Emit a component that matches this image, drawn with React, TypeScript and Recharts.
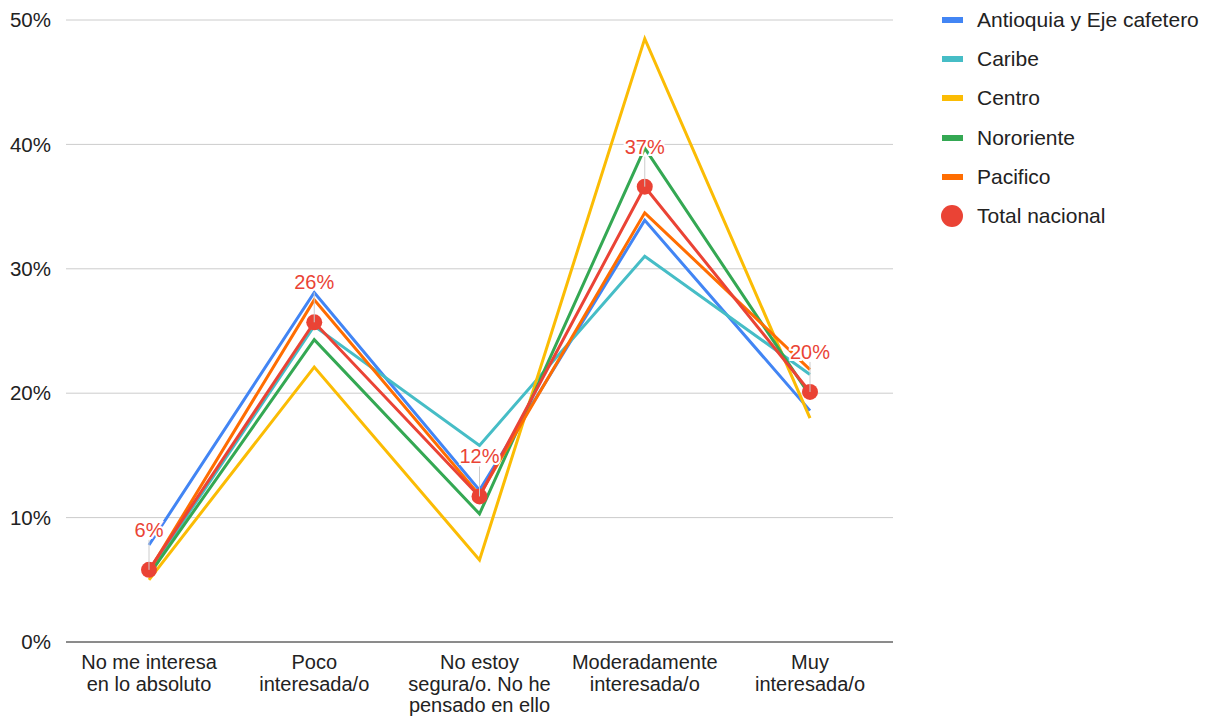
import { CartesianGrid, LabelList, Line, LineChart, XAxis, YAxis } from "recharts";

const categories = [
  ["No me interesa", "en lo absoluto"],
  ["Poco", "interesada/o"],
  ["No estoy", "segura/o. No he", "pensado en ello"],
  ["Moderadamente", "interesada/o"],
  ["Muy", "interesada/o"],
];

const seriesNames = ["Antioquia y Eje cafetero", "Caribe", "Centro", "Nororiente", "Pacifico", "Total nacional"];
const seriesColors = ["#4285F4", "#46BDC6", "#FBBC04", "#34A853", "#FF6D01", "#EA4335"];

const antioquia = [7.8, 28.1, 12.2, 33.9, 18.6];
const caribe = [5.6, 25.4, 15.8, 31.0, 21.5];
const centro = [5.0, 22.1, 6.6, 48.5, 18.0];
const nororiente = [5.4, 24.3, 10.3, 39.7, 19.8];
const pacifico = [5.7, 27.5, 11.8, 34.5, 21.9];
const total = [5.8, 25.7, 11.7, 36.6, 20.1];

const yTicks = [0, 10, 20, 30, 40, 50];

const allSeries = [antioquia, caribe, centro, nororiente, pacifico, total];

const data = categories.map((c, i) => {
  const row: Record<string, any> = { name: c.join(" ") };
  seriesNames.forEach((s, k) => {
    row[s] = allSeries[k][i];
  });
  return row;
});

const FONT = "'Liberation Sans', Arial, sans-serif";

function CategoryTick(props: any) {
  const { x, y, payload } = props;
  const lines = categories[payload.index] || [];
  return (
    <g>
      {lines.map((l, i) => (
        <text key={i} x={x} y={y + 19 + i * 21.5} textAnchor="middle" fontSize={20} fill="#222" fontFamily={FONT}>
          {l}
        </text>
      ))}
    </g>
  );
}

function TotalLabel(props: any) {
  const { x, y, value } = props;
  const ly = y - 40;
  return (
    <g>
      <line x1={x} x2={x} y1={ly + 10} y2={y} stroke="#ccc" strokeWidth={1} />
      <text
        x={x}
        y={ly}
        textAnchor="middle"
        dominantBaseline="central"
        fontSize={20}
        fill="#EA4335"
        fontFamily={FONT}
        stroke="#fff"
        strokeWidth={4}
        paintOrder="stroke"
      >
        {Math.round(value)}%
      </text>
    </g>
  );
}

function LegendBox() {
  return (
    <div style={{ fontFamily: FONT, fontSize: 21, color: "#222" }}>
      {seriesNames.map((s, i) => (
        <div key={s} style={{ display: "flex", alignItems: "center", height: 39.3 }}>
          {i === 5 ? (
            <span style={{ width: 22, height: 22, borderRadius: 11, background: seriesColors[i], marginLeft: 1, marginRight: 14 }} />
          ) : (
            <span style={{ width: 21, height: 6, background: seriesColors[i], marginLeft: 2, marginRight: 14 }} />
          )}
          <span>{s}</span>
        </div>
      ))}
    </div>
  );
}

export default function App() {
  return (
    <div style={{ position: "absolute", left: 0, top: 0, width: 1206, height: 716, background: "#fff", overflow: "hidden" }}>
      <LineChart width={1206} height={716} data={data} margin={{ top: 20, right: 313, left: 0, bottom: 0 }}>
        <CartesianGrid vertical={false} stroke="#ccc" />
        <XAxis
          dataKey="name"
          tick={<CategoryTick />}
          tickLine={false}
          axisLine={{ stroke: "#333" }}
          interval={0}
          height={74}
          padding={{ left: 83, right: 83 }}
        />
        <YAxis
          domain={[0, 50]}
          ticks={yTicks}
          tickFormatter={(v) => `${v}%`}
          axisLine={false}
          tickLine={false}
          width={66}
          tickMargin={9}
          tick={{ fontSize: 20.5, fill: "#222", fontFamily: FONT }}
        />
        {seriesNames.slice(0, 5).map((s, i) => (
          <Line
            key={s}
            dataKey={s}
            stroke={seriesColors[i]}
            strokeWidth={3}
            dot={false}
            activeDot={false}
            isAnimationActive={false}
            type="linear"
          />
        ))}
        <Line
          dataKey={seriesNames[5]}
          stroke={seriesColors[5]}
          strokeWidth={3}
          dot={{ r: 8, fill: seriesColors[5], stroke: seriesColors[5], strokeWidth: 0 }}
          activeDot={false}
          isAnimationActive={false}
          type="linear"
        >
          <LabelList dataKey={seriesNames[5]} content={<TotalLabel />} />
        </Line>
      </LineChart>
      <div style={{ position: "absolute", left: 940, top: 0 }}>
        <LegendBox />
      </div>
    </div>
  );
}
